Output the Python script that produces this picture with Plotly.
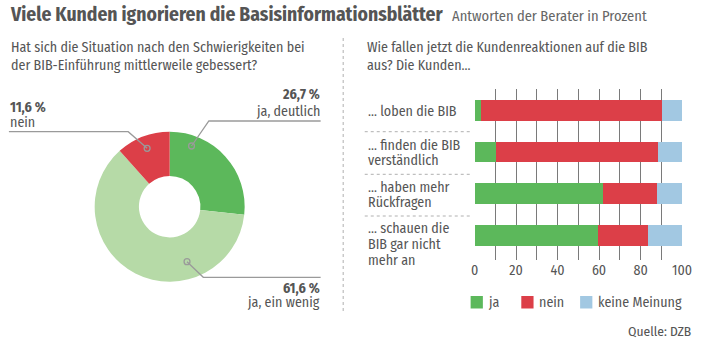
import plotly.graph_objects as go

W, H = 710, 355

# ---- data ----
pie_labels = ["ja, deutlich", "ja, ein wenig", "nein"]
pie_values = [26.7, 61.6, 11.6]
pie_colors = ["#5cb85b", "#b6daa7", "#dc3f48"]

bar_categories = ["... loben die BIB", "... finden die BIB<br>verständlich",
                  "... haben mehr<br>Rückfragen", "... schauen die<br>BIB gar nicht<br>mehr an"]
ja = [3.1, 10.2, 62.0, 59.5]
nein = [87.0, 78.0, 25.7, 24.3]
keine = [9.9, 11.8, 12.3, 16.2]
series_names = ["ja", "nein", "keine Meinung"]
series_colors = ["#5cb85b", "#dc3f48", "#a2c8e2"]
x_ticks = [0, 10, 20, 30, 40, 50, 60, 70, 80, 90, 100]
x_ticklabels = ["0", "", "20", "", "40", "", "60", "", "80", "", "100"]

FONT = "Fira Sans Condensed, Liberation Sans Narrow, Roboto Condensed, Roboto, sans-serif"
TXT = "#555555"
LINE = "#9a9a9a"


def px(x):
    return x / W


def py(y):
    return 1 - y / H


fig = go.Figure()

# donut
cx, cy, r = 169, 206.7, 76.5
fig.add_trace(go.Pie(
    labels=pie_labels, values=pie_values, sort=False, direction="clockwise",
    rotation=0, hole=0.41, textinfo="none", hoverinfo="label+value",
    marker=dict(colors=pie_colors, line=dict(width=0)),
    domain=dict(x=[px(cx - r), px(cx + r)], y=[py(cy + r), py(cy - r)]),
    showlegend=False,
))

# stacked bars
ypos = list(range(len(bar_categories)))
for name, vals, col in zip(series_names, [ja, nein, keine], series_colors):
    fig.add_trace(go.Bar(
        y=ypos, x=vals, orientation="h", name=name, width=0.5,
        marker=dict(color=col, line=dict(width=0)), showlegend=False,
        xaxis="x", yaxis="y",
    ))

fig.update_layout(
    width=W, height=H, autosize=False,
    margin=dict(l=0, r=0, t=0, b=0, pad=0),
    paper_bgcolor="white", plot_bgcolor="white",
    barmode="stack",
    font=dict(family=FONT, color=TXT, size=13),
    xaxis=dict(domain=[px(480), px(691.7)], range=[0, 100], tickvals=x_ticks,
               ticktext=x_ticklabels, showgrid=True, gridcolor="#7a7a7a", gridwidth=1.3,
               zeroline=False, showline=False, ticks="", tickfont=dict(size=14, color=TXT),
               fixedrange=True),
    yaxis=dict(domain=[py(260), py(89)], range=[3.59, -0.51], showticklabels=False,
               showgrid=False, zeroline=False, showline=False, ticks="", fixedrange=True),
)

ann = []
shapes = []

# title
ann.append(dict(x=px(4), y=py(15), xref="paper", yref="paper", xanchor="left", yanchor="middle",
                text="<b>Viele Kunden ignorieren die Basisinformationsblätter</b>",
                showarrow=False, font=dict(size=19.5, color="#555555")))
ann.append(dict(x=px(455), y=py(16), xref="paper", yref="paper", xanchor="left", yanchor="middle",
                text="Antworten der Berater in Prozent", showarrow=False,
                font=dict(size=14.5, color="#666666")))
# questions
for x0, lines in [(5, ["Hat sich die Situation nach den Schwierigkeiten bei",
                       "der BIB-Einführung mittlerweile gebessert?"]),
                  (368, ["Wie fallen jetzt die Kundenreaktionen auf die BIB",
                         "aus? Die Kunden..."])]:
    for i, t in enumerate(lines):
        ann.append(dict(x=px(x0), y=py(47 + 19 * i), xref="paper", yref="paper",
                        xanchor="left", yanchor="middle", text=t, showarrow=False,
                        font=dict(size=14, color=TXT)))

# vertical separator
shapes.append(dict(type="line", xref="paper", yref="paper", x0=px(346), x1=px(346),
                   y0=py(38), y1=py(312), line=dict(color="#b0b0b0", width=1, dash="dot")))

# category labels
label_y = [[111.7], [145, 160.7], [187.3, 202.7], [228.3, 244, 260]]
for cat, ys in zip(bar_categories, label_y):
    parts = cat.split("<br>")
    for t, yy in zip(parts, ys):
        ann.append(dict(x=px(369), y=py(yy), xref="paper", yref="paper", xanchor="left",
                        yanchor="middle", text=t.replace("...", "…"), showarrow=False,
                        font=dict(size=14, color=TXT)))
for yy in [131.7, 174.3, 216]:
    shapes.append(dict(type="line", xref="paper", yref="paper", x0=px(368), x1=px(478),
                       y0=py(yy), y1=py(yy), line=dict(color="#b0b0b0", width=1, dash="dot")))

# legend
leg_x = [476, 527.7, 587.7]
for x0, name, col in zip(leg_x, series_names, series_colors):
    shapes.append(dict(type="rect", xref="paper", yref="paper", x0=px(x0), x1=px(x0 + 12.5),
                       y0=py(308.5), y1=py(296), fillcolor=col, line=dict(width=0)))
    ann.append(dict(x=px(x0 + 16), y=py(302), xref="paper", yref="paper", xanchor="left",
                    yanchor="middle", text=name, showarrow=False, font=dict(size=14, color=TXT)))

ann.append(dict(x=px(703), y=py(331), xref="paper", yref="paper", xanchor="right",
                yanchor="middle", text="Quelle: DZB", showarrow=False,
                font=dict(size=13.5, color=TXT)))


def fmt(v):
    return f"{v:.1f}".replace(".", ",") + " %"


# donut callouts: (label x, anchor, value y, name y, polyline points)
callouts = {
    "ja, deutlich": (324, "right", 95, 111.7, [(323, 121), (209, 121), (191.3, 146)]),
    "ja, ein wenig": (324, "right", 288.5, 302.5, [(323, 277.3), (203.3, 277.3), (186.7, 261.7)]),
    "nein": (4, "left", 107, 122.7, [(5, 131.7), (126.7, 131.7), (146, 148.3)]),
}
for lab, val in zip(pie_labels, pie_values):
    lx, anc, vy, ny, pts = callouts[lab]
    ann.append(dict(x=px(lx), y=py(vy), xref="paper", yref="paper", xanchor=anc,
                    yanchor="middle", text=f"<b>{fmt(val)}</b>", showarrow=False,
                    font=dict(size=14, color=TXT)))
    ann.append(dict(x=px(lx), y=py(ny), xref="paper", yref="paper", xanchor=anc,
                    yanchor="middle", text=lab, showarrow=False, font=dict(size=14, color=TXT)))
    path = "M " + " L ".join(f"{px(a)},{py(b)}" for a, b in pts)
    shapes.append(dict(type="path", xref="paper", yref="paper", path=path,
                       line=dict(color=LINE, width=1.3)))
    ex, ey = pts[-1]
    shapes.append(dict(type="circle", xref="paper", yref="paper", x0=px(ex - 3), x1=px(ex + 3),
                       y0=py(ey + 3), y1=py(ey - 3), line=dict(color=LINE, width=1.3),
                       fillcolor="rgba(0,0,0,0)"))

fig.update_layout(annotations=ann, shapes=shapes)
fig.write_html("out.html", config={"displayModeBar": False},
               post_script="document.body.style.margin='0';document.body.style.overflow='hidden';")
